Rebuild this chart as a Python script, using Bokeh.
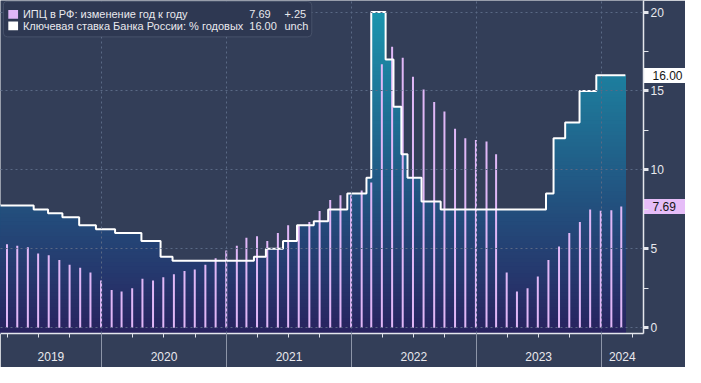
import numpy as np
import pandas as pd
from bokeh.plotting import figure
from bokeh.models import (Range1d, FixedTicker, Label, BoxAnnotation, LinearAxis,
                          DatetimeAxis, CustomJSTickFormatter, PrintfTickFormatter)
from bokeh.embed import file_html
from bokeh.resources import INLINE

# ---------------- data ----------------
cpi_first_month = "2019-03"          # monthly CPI, plotted at month end
cpi_values = [5.3, 5.2, 5.1, 4.7, 4.6, 4.3, 4.0, 3.8, 3.5, 3.0,
              2.4, 2.3, 2.5, 3.1, 3.0, 3.2, 3.4, 3.6, 3.7, 4.0, 4.4, 4.9,
              5.2, 5.7, 5.8, 5.5, 6.0, 6.5, 6.5, 6.7, 7.4, 8.1, 8.4, 8.4,
              8.7, 9.2, 16.7, 17.8, 17.1, 15.9, 15.1, 14.3, 13.7, 12.6, 12.0, 11.9,
              11.8, 11.0, 3.5, 2.3, 2.5, 3.25, 4.3, 5.15, 6.0, 6.7, 7.5, 7.42,
              7.44, 7.69]

rate_dates = ["2018-12-17", "2019-06-17", "2019-07-29", "2019-09-09", "2019-10-28",
              "2019-12-16", "2020-02-10", "2020-04-27", "2020-06-22", "2020-07-27",
              "2021-03-22", "2021-04-26", "2021-06-15", "2021-07-26", "2021-09-13",
              "2021-10-25", "2021-12-20", "2022-02-14", "2022-02-28", "2022-04-11",
              "2022-05-04", "2022-05-27", "2022-06-14", "2022-07-25", "2022-09-19",
              "2023-07-24", "2023-08-15", "2023-09-18", "2023-10-30", "2023-12-18",
              "2024-03-12"]
rate_values = [7.75, 7.50, 7.25, 7.00, 6.50, 6.25, 6.00, 5.50, 4.50, 4.25,
               4.50, 5.00, 5.50, 6.50, 6.75, 7.50, 8.50, 9.50, 20.00, 17.00,
               14.00, 11.00, 9.50, 8.00, 7.50, 8.50, 12.00, 13.00, 15.00, 16.00,
               16.00]

years = ["2019", "2020", "2021", "2022", "2023", "2024"]
y_ticks = [0, 5, 10, 15, 20]
y_minor = [2.5, 7.5, 12.5, 17.5]

legend_rows = [
    ("ИПЦ в РФ: изменение год к году", "7.69", "+.25"),
    ("Ключевая ставка Банка России: % годовых", "16.00", "unch"),
]
last_cpi = 7.69
last_rate = 16.00

# ---------------- styling ----------------
BG = "#333e58"
GRID = "#5a6985"
BAR = "#e0b7f7"
TAG_CPI = "#e6bdf8"
TXT = "#e9e9ee"
AXIS = "#e4e6ec"
FONT = "Liberation Sans"
GRAD_TOP = np.array([26, 152, 176])
GRAD_BOT = np.array([40, 34, 94])

def ms(d):
    return pd.Timestamp(d).value / 1e6

x0, x1 = ms("2019-03-12"), ms("2024-05-04")
y0, y1 = -0.36, 20.73
REF_W, REF_H = 659.0, 348.0   # reference frame size in px

def X(px):
    return x0 + px / REF_W * (x1 - x0)

def Y(py):
    return y1 - py / REF_H * (y1 - y0)

cpi_dates = pd.date_range(cpi_first_month + "-01", periods=len(cpi_values), freq="MS") + pd.offsets.MonthEnd(0)
cpi_x = np.array([ms(d) for d in cpi_dates])
r_x = np.array([ms(d) for d in rate_dates])
r_y = np.array(rate_values)

p = figure(width=685, height=367, x_axis_type="datetime", y_axis_location=None,
           x_range=Range1d(x0, x1), y_range=Range1d(y0, y1),
           output_backend="svg", toolbar_location=None,
           min_border_left=0, min_border_top=0, min_border_right=42, min_border_bottom=34)
p.background_fill_color = BG
p.border_fill_color = BG
p.outline_line_color = None

# gradient-filled step area under key rate
sx, sy = [], []
for i in range(len(r_x) - 1):
    sx += [r_x[i], r_x[i + 1]]
    sy += [r_y[i], r_y[i]]
sx = np.array(sx); sy = np.array(sy)
tops = np.linspace(y1, y0, 90)
for t in tops:
    f = (t - y0) / (y1 - y0)
    c = GRAD_BOT + (GRAD_TOP - GRAD_BOT) * f
    col = "#%02x%02x%02x" % tuple(int(round(v)) for v in c)
    p.varea(x=sx, y1=np.full(len(sx), y0), y2=np.minimum(sy, t), fill_color=col, fill_alpha=1)

# CPI bars
p.segment(x0=cpi_x, y0=np.zeros(len(cpi_x)), x1=cpi_x, y1=cpi_values,
          line_color=BAR, line_width=2)

# key rate line
p.step(x=r_x, y=r_y, mode="after", line_color="white", line_width=2)

# ---------------- x axes ----------------
year_bounds = [ms(f"{y}-01-01") for y in years[1:]]
quarters = [ms(d) for d in pd.date_range("2019-04-01", "2024-04-01", freq="QS")
            if d.month != 1]
edges = [x0] + year_bounds + [x1]
year_mids = [round((edges[i] + edges[i + 1]) / 2) for i in range(len(years))]

# axis nearest the frame: year separators (drawn outward) + quarter ticks, no labels
xa = p.xaxis[0]
xa.ticker = FixedTicker(ticks=year_bounds, minor_ticks=quarters)
xa.axis_line_color = AXIS
xa.axis_line_width = 1.5
xa.major_tick_out = 0
xa.major_tick_in = -40
xa.major_tick_line_color = "#8d95a8"
xa.minor_tick_out = 4
xa.minor_tick_in = 0
xa.minor_tick_line_color = "#dfe2ea"
xa.major_label_text_color = None
xa.major_label_standoff = 0

# second axis: year names centred on the visible spans
xl = DatetimeAxis()
xl.ticker = FixedTicker(ticks=year_mids, minor_ticks=[])
xl.formatter = CustomJSTickFormatter(code="return String(new Date(tick).getUTCFullYear())")
xl.axis_line_color = None
xl.major_tick_line_color = None
xl.major_tick_out = 0
xl.major_tick_in = 0
xl.minor_tick_line_color = None
xl.major_label_standoff = 14
xl.major_label_text_font = FONT
xl.major_label_text_font_size = "12px"
xl.major_label_text_color = TXT
p.add_layout(xl, "below")

# ---------------- right side ----------------
# zero-width axes that draw the value tags as thick outward ticks
for v, fill in ((last_rate, "white"), (last_cpi, TAG_CPI)):
    tb = LinearAxis()
    tb.ticker = FixedTicker(ticks=[v], minor_ticks=[v])
    tb.axis_line_color = None
    tb.major_tick_out = 0
    tb.major_tick_in = -42
    tb.major_tick_line_width = 15
    tb.major_tick_line_color = fill
    tb.minor_tick_out = 0
    tb.minor_tick_in = -6
    tb.minor_tick_line_width = 8
    tb.minor_tick_line_color = fill
    tb.major_label_text_color = None
    tb.major_label_standoff = 0
    p.add_layout(tb, "right")

ya = LinearAxis()
ya.ticker = FixedTicker(ticks=y_ticks, minor_ticks=y_minor)
ya.axis_line_color = AXIS
ya.axis_line_width = 1.5
ya.major_tick_out = 5
ya.major_tick_in = 0
ya.major_tick_line_width = 3
ya.major_tick_line_color = AXIS
ya.minor_tick_out = 5
ya.minor_tick_in = 0
ya.minor_tick_line_color = AXIS
ya.major_label_text_font = FONT
ya.major_label_text_font_size = "12px"
ya.major_label_text_color = TXT
ya.major_label_standoff = 2
p.add_layout(ya, "right")

# tag texts (labels pulled back over the tag boxes)
tt = LinearAxis()
tt.ticker = FixedTicker(ticks=[last_cpi, last_rate], minor_ticks=[])
tt.formatter = PrintfTickFormatter(format="%.2f")
tt.axis_line_color = None
tt.major_tick_line_color = None
tt.major_tick_out = 0
tt.major_tick_in = 0
tt.minor_tick_line_color = None
tt.major_label_standoff = -14
tt.major_label_text_font = FONT
tt.major_label_text_font_size = "12px"
tt.major_label_text_color = "#151515"
p.add_layout(tt, "right")

xg = p.xgrid[0]
xg.ticker = FixedTicker(ticks=year_bounds, minor_ticks=[])
yg = p.ygrid[0]
yg.ticker = FixedTicker(ticks=y_ticks, minor_ticks=[])
for g in (xg, yg):
    g.grid_line_color = GRID
    g.grid_line_dash = "2 3"
    g.grid_line_width = 1
    g.level = "guide"

# ---------------- legend ----------------
p.add_layout(BoxAnnotation(left=X(3), right=X(319), top=Y(1), bottom=Y(38),
                           fill_color="#2e3852", fill_alpha=1,
                           line_color="#7f899c", line_width=1, border_radius=4,
                           level="annotation"))
sq_colors = [BAR, "white"]
for i, (name, val, chg) in enumerate(legend_rows):
    cy = 14.5 + 12 * i
    p.add_layout(BoxAnnotation(left=X(8), right=X(18), top=Y(cy - 4.5), bottom=Y(cy + 4.5),
                               fill_color=sq_colors[i], fill_alpha=1, line_color=None))
    for txt, px in ((name, 23), (val, 255), (chg, 291)):
        p.add_layout(Label(x=X(px), y=Y(cy), text=txt, text_baseline="middle",
                           text_font=FONT, text_font_size="11px", text_color=TXT))

open("out.html", "w").write(file_html(p, INLINE))
